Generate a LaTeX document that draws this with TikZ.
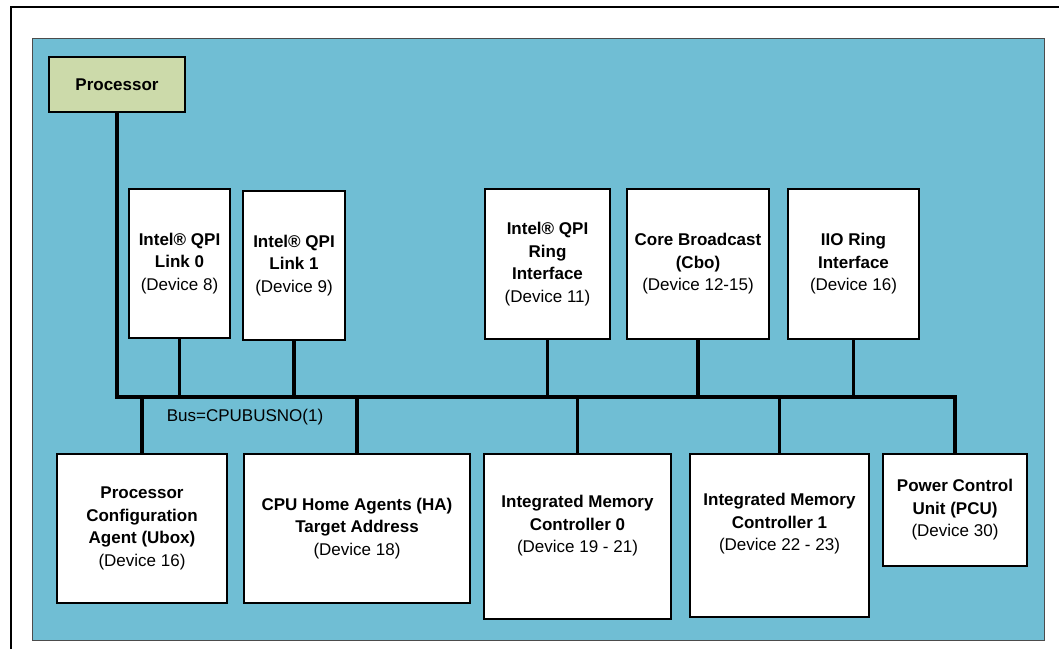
\documentclass[tikz,border=0pt]{standalone}
\usepackage{fontspec}
\setmainfont{Liberation Sans}
\definecolor{chipblue}{HTML}{70BED4}
\definecolor{procgreen}{HTML}{CCDAAA}
\tikzset{
  txt/.style={align=center, font=\fontsize{17}{22.5}\selectfont},
  unit/.style={txt, draw, fill=white, line width=2pt, inner sep=2pt},
  wire/.style={line width=3.5pt},
}

\begin{document}
\begin{tikzpicture}[x=1pt, y=-1pt]
        \useasboundingbox (0,0) rectangle (1059,649);
        \draw[line width=2.5pt] (11,649) -- (11,7) -- (1059,7);
        \draw[fill=chipblue, draw=black!70, line width=1pt] (32,38) rectangle (1044,640);

        % processor and upper row
        \node[unit, fill=procgreen, minimum width=136, minimum height=55] (proc) at (117,84.5) {\textbf{Processor}};
        \node[unit, minimum width=101, minimum height=149] (link0) at (179.5,263.5) {\textbf{Intel® QPI}\\\textbf{Link 0}\\(Device 8)};
        \node[unit, minimum width=102, minimum height=149] (link1) at (294,265.5) {\textbf{Intel® QPI}\\\textbf{Link 1}\\(Device 9)};
        \node[unit, minimum width=125, minimum height=150] (qpiring) at (547.5,264) {\textbf{Intel® QPI}\\\textbf{Ring}\\\textbf{Interface}\\(Device 11)};
        \node[unit, minimum width=142, minimum height=150] (cbo) at (698,264) {\textbf{Core Broadcast}\\\textbf{(Cbo)}\\(Device 12-15)};
        \node[unit, minimum width=131, minimum height=150] (iio) at (853.5,264) {\textbf{IIO Ring}\\\textbf{Interface}\\(Device 16)};

        % lower row
        \node[unit, minimum width=170, minimum height=149] (ubox) at (142,528.5) {\textbf{Processor}\\\textbf{Configuration}\\\textbf{Agent (Ubox)}\\(Device 16)};
        \node[unit, minimum width=226, minimum height=149] (ha) at (357,528.5) {\textbf{CPU Home Agents (HA)}\\\textbf{Target Address}\\(Device 18)};
        \node[unit, minimum width=187, minimum height=165,
              label={[txt, yshift=10.5pt]center:{\textbf{Integrated Memory}\\\textbf{Controller 0}\\(Device 19 - 21)}}] (imc0) at (577.5,536.5) {};
        \node[unit, minimum width=179, minimum height=163,
              label={[txt, yshift=11.5pt]center:{\textbf{Integrated Memory}\\\textbf{Controller 1}\\(Device 22 - 23)}}] (imc1) at (779.5,535.5) {};
        \node[unit, minimum width=144, minimum height=112] (pcu) at (955,510) {\textbf{Power Control}\\\textbf{Unit (PCU)}\\(Device 30)};

        % bus
        \coordinate (bus) at (117,397);
        \draw[wire] (proc.south) |- (pcu.north |- bus) -- (pcu.north);
        \draw[wire] (link0.south) -- (link0.south |- bus);
        \draw[wire] (link1.south) -- (link1.south |- bus);
        \draw[wire] (qpiring.south) -- (qpiring.south |- bus);
        \draw[wire] (cbo.south) -- (cbo.south |- bus);
        \draw[wire] (iio.south) -- (iio.south |- bus);
        \draw[wire] (ubox.north |- bus) -- (ubox.north);
        \draw[wire] (ha.north |- bus) -- (ha.north);
        \draw[wire] (imc0.north |- bus) -- (imc0.north);
        \draw[wire] (imc1.north |- bus) -- (imc1.north);
        \node[txt] (busname) at (245,417) {Bus=CPUBUSNO(1)};
      \end{tikzpicture}
\end{document}
